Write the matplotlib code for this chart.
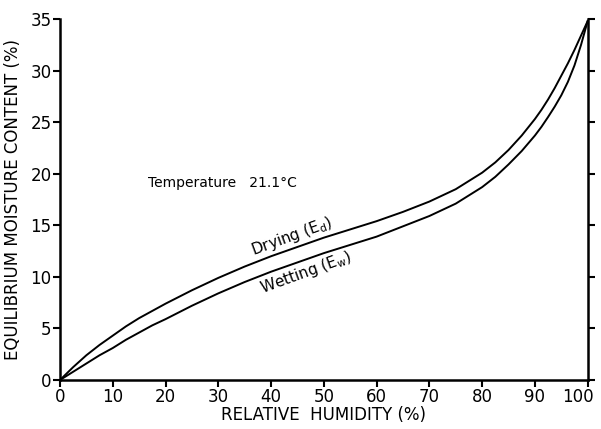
import matplotlib
matplotlib.use('Agg')
import matplotlib.pyplot as plt
import matplotlib.transforms as mtransforms
import numpy as np

plt.rcParams['font.family'] = ['DejaVu Sans']

# relative humidity (%)
rh = [0, 2.5, 5, 7.5, 10, 12.5, 15, 17.5, 20, 25, 30, 35, 40, 45, 50, 55, 60, 65, 70, 75,
      80, 82.5, 85, 87.5, 90, 91.25, 92.5, 93.75, 95, 96.25, 97.5, 98.75, 100]
# drying curve (E_d)
drying = [0, 1.25, 2.4, 3.4, 4.3, 5.2, 6.0, 6.7, 7.4, 8.7, 9.9, 11.0, 12.0, 12.9, 13.8, 14.6, 15.4, 16.3, 17.3, 18.5,
          20.1, 21.1, 22.3, 23.7, 25.3, 26.2, 27.2, 28.3, 29.5, 30.7, 32.0, 33.4, 34.8]
# wetting curve (E_w)
wetting = [0, 0.8, 1.6, 2.4, 3.1, 3.9, 4.6, 5.3, 5.9, 7.2, 8.4, 9.5, 10.5, 11.4, 12.3, 13.1, 13.9, 14.9, 15.9, 17.1,
           18.7, 19.7, 20.9, 22.2, 23.7, 24.55, 25.5, 26.5, 27.6, 28.9, 30.5, 32.5, 34.8]

xticks = np.arange(0, 101, 10)
yticks = np.arange(0, 36, 5)

fig = plt.figure(figsize=(6.01, 4.29), dpi=100)
ax = fig.add_axes([0.0998, 0.1142, 0.878, 0.8415])

ax.plot(rh, drying, color='black', lw=1.4)
ax.plot(rh, wetting, color='black', lw=1.4)

ax.set_xlim(0, 100)
ax.set_ylim(0, 35)
ax.set_xticks(xticks)
ax.set_yticks(yticks)
ax.tick_params(axis='both', labelsize=12, width=1.5, length=5, pad=1)
ax.tick_params(axis='y', right=True)

# nudge "100" so it stays inside the canvas
last = ax.get_xticklabels()[-1]
last.set_transform(last.get_transform() + mtransforms.ScaledTranslation(-7 / 72, 0, fig.dpi_scale_trans))

for s in ['left', 'bottom', 'right']:
    ax.spines[s].set_linewidth(1.8)
ax.spines['top'].set_visible(False)

ax.set_xlabel('RELATIVE  HUMIDITY (%)', fontsize=12, labelpad=0)
ax.set_ylabel('EQUILIBRIUM MOISTURE CONTENT (%)', fontsize=12, labelpad=6)

ax.text(16.7, 19.1, 'Temperature   21.1°C', fontsize=10, va='center', ha='left')
ax.text(43.9, 13.9, 'Drying (E$_\\mathregular{d}$)', fontsize=11, rotation=20,
        ha='center', va='center', rotation_mode='anchor')
ax.text(46.7, 10.4, 'Wetting (E$_\\mathregular{w}$)', fontsize=11, rotation=20,
        ha='center', va='center', rotation_mode='anchor')

fig.savefig('out.png', dpi=100)
